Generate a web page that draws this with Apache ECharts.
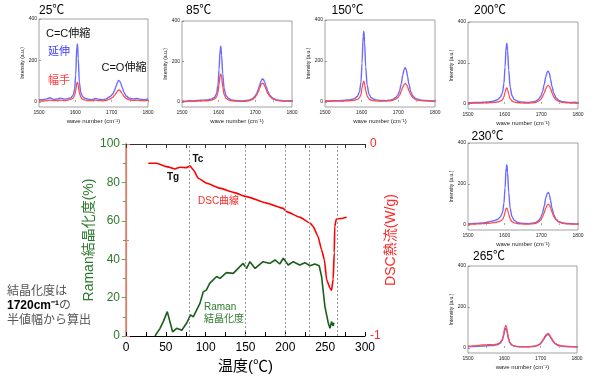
<!DOCTYPE html>
<html><head><meta charset="utf-8">
<script src="https://cdn.jsdelivr.net/npm/echarts@6/dist/echarts.min.js"></script>
<style>html,body{margin:0;padding:0;background:#fff}#c{width:600px;height:381px}</style>
</head><body><div id="c"></div>
<script>
const FONT = "'Liberation Sans','Noto Sans CJK JP',sans-serif";

// ---- main chart data ----
const dscTemp = [28,38.5,51,61.5,67.7,76,80.3,84.5,90.8,101,118,135,151,176.5,197,201.6,218,231,235,241,245.5,249,251.8,256,258,260,261.4,262,264,270,277];
const dscFlow = [-0.100,-0.100,-0.118,-0.130,-0.121,-0.123,-0.114,-0.135,-0.178,-0.204,-0.230,-0.252,-0.274,-0.308,-0.334,-0.352,-0.381,-0.412,-0.430,-0.482,-0.551,-0.603,-0.706,-0.750,-0.762,-0.706,-0.566,-0.430,-0.391,-0.388,-0.381];
const ramanTemp = [36.4,42.7,46.8,51.8,54.3,58.5,63.6,70,76,81,84.4,92.8,97,101,105,113.8,118,126,134.6,147,151.4,155.6,162,172,180.7,187,193,197.4,203.6,210,218,224.6,231,237,242.5,245.5,249.7,254,256,258,260,261];
const ramanCryst = [0,4,7.5,12.7,11.8,2.2,4,3,6.6,11,10,17,23,24,27.4,31,30,33,32.6,37.8,35.2,38.7,35.2,38.7,37.8,39.6,37.5,40.5,37,38.7,37,38.2,36.6,37.5,36.6,31,15.3,6.6,4,7.5,5.2,7];
const transitionTemps = [80,150,200,230,265];

// ---- spectra data ----
const waveNumbers = [1500,1510,1520,1530,1540,1550,1560,1570,1580,1588,1594,1598,1601,1604,1606,1608,1611,1615,1620,1626,1635,1645,1655,1665,1675,1685,1692,1698,1703,1708,1712,1716,1719,1722,1725,1729,1734,1740,1748,1758,1770,1780,1790,1800];
const panelTitles = ['25℃','85℃','150℃','200℃','230℃','265℃'];
const blue25 = [12,10,14,20,12,14,18,13,15,20,32,60,130,265,280,210,95,45,25,18,13,10,16,12,10,14,22,28,38,55,75,95,103,100,90,70,45,28,18,14,16,12,10,14];
const red25  = [5,4,6,8,6,7,8,6,8,12,18,30,55,90,95,80,45,22,12,9,6,5,8,6,5,7,12,16,22,32,42,52,57,56,50,40,26,16,10,7,8,6,5,7];
const blue85 = [5,4,6,5,7,8,9,10,14,22,40,80,160,260,276,230,140,65,32,18,10,7,6,5,7,10,16,26,40,62,85,105,114,112,100,78,52,32,18,10,7,5,6,5];
const red85  = [3,2,4,3,4,5,6,6,9,14,24,45,88,132,139,120,75,36,18,10,6,4,4,3,4,7,12,20,32,50,70,87,93,91,82,64,42,26,14,8,5,4,4,3];
const blue150 = [5,5,5,6,6,7,9,11,16,26,48,95,190,320,345,290,170,80,38,20,12,8,7,6,8,12,20,32,52,88,130,160,167,155,125,85,50,28,16,10,7,6,5,5];
const red150  = [3,3,3,4,4,4,5,6,8,12,20,36,68,96,101,88,56,28,14,8,5,4,4,4,5,8,13,20,32,52,72,86,90,86,74,54,34,20,11,7,5,4,3,3];
const blue200 = [6,6,7,7,8,9,11,14,20,32,55,100,180,280,297,260,165,82,40,22,13,9,8,7,9,13,22,36,58,95,132,156,160,150,122,85,52,30,17,11,8,7,8,6];
const red200  = [3,3,4,4,4,5,6,7,9,13,20,34,56,75,78,70,48,26,14,9,6,5,4,4,5,8,13,21,34,54,74,87,90,86,74,54,34,20,12,7,5,4,4,3];
const blue230 = [5,6,7,8,10,12,16,20,26,38,60,105,180,278,294,255,160,80,40,22,12,8,7,6,8,12,20,34,56,92,130,154,158,148,120,82,50,28,16,10,7,6,5,5];
const red230  = [3,4,4,5,6,7,9,11,14,18,26,40,62,80,82,74,52,28,16,10,6,5,4,4,5,8,14,23,38,60,82,97,101,97,84,62,40,24,13,8,5,4,4,3];
const blue265 = [6,6,7,8,9,10,11,12,15,22,35,58,85,95,90,72,45,25,14,9,6,5,5,5,6,8,12,18,27,40,52,61,65,64,58,46,32,20,12,8,6,5,5,4];
const red265  = [8,9,10,12,14,15,16,15,18,26,40,66,98,110,104,82,52,28,16,10,7,6,6,5,7,9,13,20,30,44,57,66,70,69,62,50,35,22,14,10,8,7,6,5];
const spectraBlue = [blue25,blue85,blue150,blue200,blue230,blue265];
const spectraRed = [red25,red85,red150,red200,red230,red265];
const spectraYTicks = [0,200,400];

// ---- layout ----
const panelBoxes = [[39,19,109,88],[182,21,110,86],[325,20,110,87],[468,22,110,87],[468,143,110,87],[468,266,109,87]];
const titlePos = [[39,10.5],[186,11],[331.5,11],[474,11],[471.5,136.5],[473,256.5]];

const zip = (a,b)=>a.map((v,i)=>[v,b[i]]);
const GREEN_T = '#2b7a2b', GREEN_L = '#4caf50', RED_T = '#ff2a2a';

const grids = [{left:126, top:144, width:239, height:192, show:false}];
const xAxes = [
  {gridIndex:0, type:'value', min:0, max:300, interval:50, position:'bottom',
   axisLine:{lineStyle:{color:'#000',width:1}},
   axisTick:{inside:true,length:4,lineStyle:{color:'#000'}},
   minorTick:{show:true,splitNumber:2,length:4,lineStyle:{color:'#000'}},
   axisLabel:{color:'#000',fontSize:12,fontFamily:FONT,margin:6},
   splitLine:{show:false},
   name:'温度(℃)', nameLocation:'middle', nameGap:20,
   nameTextStyle:{color:'#000',fontSize:15,fontFamily:FONT}},
  {gridIndex:0, type:'value', min:0, max:300, interval:25, position:'top',
   axisLine:{lineStyle:{color:'#333',width:1}},
   axisTick:{inside:true,length:4,lineStyle:{color:'#333'}},
   axisLabel:{show:false}, splitLine:{show:false}}
];
const yAxes = [
  {gridIndex:0, type:'value', min:0, max:100, interval:20, position:'left',
   axisLine:{show:true,lineStyle:{color:GREEN_L,width:1.2}},
   axisTick:{show:true,length:4,lineStyle:{color:GREEN_L}},
   minorTick:{show:true,splitNumber:2,length:3,lineStyle:{color:GREEN_L}},
   axisLabel:{color:GREEN_T,fontSize:12,fontFamily:FONT,margin:6},
   splitLine:{show:false},
   name:'Raman結晶化度(%)', nameLocation:'middle', nameRotate:90, nameGap:25,
   nameTextStyle:{color:GREEN_T,fontSize:14,fontFamily:FONT}},
  {gridIndex:0, type:'value', min:-1, max:0, interval:1, position:'right',
   axisLine:{show:true,lineStyle:{color:'#ff7070',width:1.5}},
   axisTick:{show:true,length:4,lineStyle:{color:'#ff7070'}},
   minorTick:{show:true,splitNumber:2,length:3,lineStyle:{color:'#ff7070'}},
   axisLabel:{color:RED_T,fontSize:12,fontFamily:FONT,margin:5},
   splitLine:{show:false},
   name:'DSC熱流(W/g)', nameLocation:'middle', nameRotate:90, nameGap:14,
   nameTextStyle:{color:RED_T,fontSize:14,fontFamily:FONT,verticalAlign:'top'}}
];
const series = [
  {type:'line', xAxisIndex:0, yAxisIndex:1, data:zip(dscTemp,dscFlow), showSymbol:false,
   smooth:0.15, smoothMonotone:'x', lineStyle:{color:'#ff0000',width:1.6}, z:3},
  {type:'line', xAxisIndex:0, yAxisIndex:0, data:zip(ramanTemp,ramanCryst), showSymbol:false,
   lineStyle:{color:'#1b5e1b',width:1.6}, z:3,
   markLine:{silent:true, symbol:['none','none'], label:{show:false},
     lineStyle:{color:'#9a9a9a',type:[2,2],width:1}, animation:false,
     data:transitionTemps.map(t=>({xAxis:t}))}}
];
const graphics = [];
panelBoxes.forEach((b,i)=>{
  const gi = i+1;
  const xi = xAxes.length, yi = yAxes.length;
  grids.push({left:b[0], top:b[1], width:b[2], height:b[3], show:true, borderColor:'#8a8a8a', borderWidth:0.8, backgroundColor:'#fff'});
  xAxes.push({gridIndex:gi, type:'value', min:1500, max:1800, interval:100,
    axisLine:{show:false}, axisTick:{inside:true,length:2,lineStyle:{color:'#666',width:0.6}},
    minorTick:{show:true,splitNumber:2,length:1.5,lineStyle:{color:'#666',width:0.6}},
    axisLabel:{fontSize:5,color:'#222',fontFamily:FONT,margin:3,formatter:v=>String(v)},
    splitLine:{show:false},
    name:'wave number (cm⁻¹)', nameLocation:'middle', nameGap:11,
    nameTextStyle:{fontSize:6,color:'#222',fontFamily:FONT}});
  yAxes.push({gridIndex:gi, type:'value', min:-25, max:400,
    axisLine:{show:false},
    axisTick:{inside:true,length:2,customValues:spectraYTicks,lineStyle:{color:'#666',width:0.6}},
    axisLabel:{fontSize:5,color:'#222',fontFamily:FONT,margin:2,customValues:spectraYTicks},
    splitLine:{show:false},
    name:'Intensity (a.u.)', nameLocation:'middle', nameRotate:90, nameGap:14,
    nameTextStyle:{fontSize:5,color:'#222',fontFamily:FONT}});
  series.push({type:'line', xAxisIndex:xi, yAxisIndex:yi, data:zip(waveNumbers,spectraBlue[i]),
    showSymbol:false, smooth:0.3, smoothMonotone:'x', lineStyle:{color:'#6b6bff',width:1.4}});
  series.push({type:'line', xAxisIndex:xi, yAxisIndex:yi, data:zip(waveNumbers,spectraRed[i]),
    showSymbol:false, smooth:0.3, smoothMonotone:'x', lineStyle:{color:'#ff4a4a',width:1.3}});
  graphics.push({type:'text', style:{x:titlePos[i][0], y:titlePos[i][1], text:panelTitles[i],
    fontSize:12, fontFamily:FONT, fill:'#000', verticalAlign:'middle'}});
});
const txt = (x,y,t,size,color,extra)=>({type:'text', z:10, style:Object.assign({x:x,y:y,text:t,fontSize:size,fontFamily:FONT,fill:color,verticalAlign:'middle'},extra||{})});
graphics.push(
  txt(46,33.5,'C=C伸縮',11,'#111'),
  txt(48,52,'延伸',11,'#3a3aff'),
  txt(48,81,'幅手',11,'#ff3a3a'),
  txt(101.5,68,'C=O伸縮',11,'#111'),
  txt(167,177,'Tg',10,'#111',{fontWeight:'bold'}),
  txt(192.5,159.5,'Tc',10,'#111',{fontWeight:'bold'}),
  txt(198,201,'DSC曲線',10,RED_T),
  txt(204,307,'Raman',10,GREEN_T),
  txt(204,319.5,'結晶化度',10,GREEN_T),
  txt(7,292,'結晶化度は',12,'#555'),
  {type:'text', z:10, style:{x:7,y:305.5,verticalAlign:'middle',fontFamily:FONT,
     text:'{b|1720cm⁻¹}{g|の}', rich:{b:{fontSize:12,fontWeight:'bold',fill:'#000',fontFamily:FONT},g:{fontSize:12,fill:'#555',fontFamily:FONT}}}},
  txt(7,320.5,'半値幅から算出',12,'#555')
);

const chart = echarts.init(document.getElementById('c'), null, {renderer:'canvas'});
chart.setOption({animation:false, backgroundColor:'#fff', grid:grids, xAxis:xAxes, yAxis:yAxes, series:series, graphic:graphics});
</script></body></html>
